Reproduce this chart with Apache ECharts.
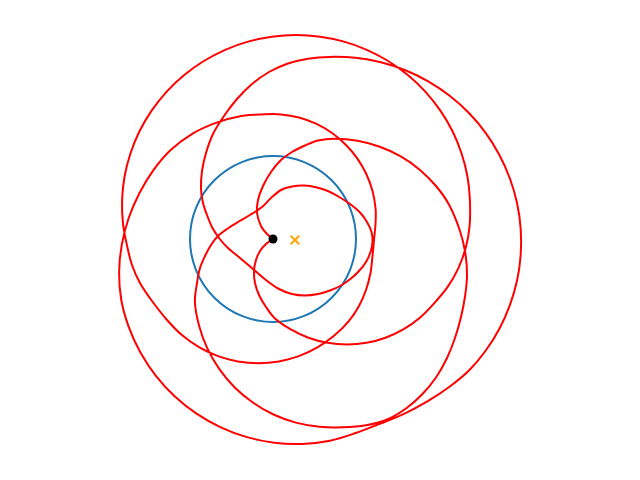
<!DOCTYPE html>
<html>
<head>
<meta charset="utf-8">
<script src="https://cdn.jsdelivr.net/npm/echarts@6/dist/echarts.min.js"></script>
<style>html,body{margin:0;padding:0;background:#fff}#c{width:640px;height:480px}</style>
</head>
<body>
<div id="c"></div>
<script>
// Trajectory (red); origin at the black dot, y up
const trajX = [0,-7,-13,-17,-19,-18,-14,-7,1.7,17.8,35.5,54.5,74,93.5,112.5,130.3,146.3,160.2,174.3,185.3,192.8,196.6,
196.9,194.4,188.5,179.4,167.2,152.3,134.8,115.2,93.8,71,47.2,23,-1.2,-25,-47.8,-69.2,-88.8,-106.3,-121.2,-133.4,-142.5,-148.4,-150.9,-150,-145.8,
-141,-133,-121,-105.5,-90.5,-73.6,-55,-35.1,-14.6,5.9,25.8,44.4,61.3,75.8,86,93,97.5,99.5,101,102.5,102.6,99.5,93.3,84.2,72.5,58.7,43,25.9,8.1,-8.3,
-31.6,-56.5,-80.4,-101.8,-119.4,-133.5,-144.3,-151.2,-153.9,-151.7,-144.3,-132.7,-117.3,-98.4,-76.5,-52.2,-26.1,1.3,29.2,57,82.7,107.6,
131.6,154.8,176.5,196.2,212.8,226.4,236.9,244.1,247.7,247.7,244.1,236.9,226.4,212.8,196.2,177,155.6,132.4,107.9,82.4,56.6,35,15,-4,-21,-36,-49,-60,-67,-71,-72,-70,
-66,-61,-54,-45,-33,-20,-7,6,19,32,45,57,68,78,86,93,97.5,99.5,98.5,94,87,77,67,56,44,31,19,8,-2,-11,-23,-35,-46,-55,-62,-68,-73,-76,
-78.1,-73.9,-65.8,-53.8,-38.5,-20.2,0.5,22.9,46.5,70,93,114,133,149,163,174,182,188,192,194,192.5,187,176.2,163,146.7,127.8,106.8,84.5,61.5,45,32,19,8,-2,-10,-15,-16,-12,-6,0];
const trajY = [0,-5,-12,-21,-32,-44,-56,-68,-79.2,-90.4,-98.7,-103.8,-105.5,-103.8,-98.7,-90.4,-79.2,-65.3,-48.4,-29.3,-8.6,13.1,
39,62.7,85.8,108,128.6,147.4,164,178,189.2,197.4,202.3,204,202.3,197.4,189.2,178,164,147.4,128.6,108,85.8,62.7,39,15.1,-7.4,
-26,-44,-62,-81.5,-96.6,-108.4,-117.1,-122.4,-124.2,-122.4,-117.1,-108.4,-96.6,-82.1,-67,-51,-34,-17,-1,15,30.1,47.9,65,80.7,94.5,106.2,115.3,121.5,124.6,124.7,
123.1,116.4,105.4,89.4,69.1,46,21,-5.6,-33.2,-61,-87.9,-113.3,-136.6,-157.2,-174.6,-188.3,-198.1,-203.7,-204.9,-201.7,-194,-184.5,
-174.6,-162.2,-147.8,-131.3,-111.5,-89.7,-66.1,-41.3,-15.7,10.1,35.7,60.5,84,105.9,125.7,143,157.4,168.7,176.7,181.2,182.1,180.3,175.5,167,155,140,123,105,86,68,50,36,
24,12,1,-9,-19,-30,-41,-50,-55,-56.5,-55,-51.5,-46.5,-39.5,-32,-23,-13,-3,7,17,26.5,35,41.5,47.5,51.5,53.5,52.5,49,41,32,24,17,10,3,-6,-17,-29,-44,
-63.2,-86.8,-109.2,-129.9,-148.2,-163.5,-175.5,-183.6,-187.8,-188.3,-186.3,-180.5,-169.5,-155.5,-138.5,-119,-99,-78,-57.5,-37,-15,8,34,53,69.3,82.6,92.3,98.3,100.3,98.5,93.5,87,79,67,53,39,26,13,5,0];
// Blue circle: centre and radius
const circleCenter = [0, 0];
const circleRadius = 83;
// Markers
const dotPoint = [0, 0];
const crossPoint = [22, -1];

const trajData = trajX.map((x, i) => [x, trajY[i]]);

const chart = echarts.init(document.getElementById('c'), null, {renderer: 'canvas'});
chart.setOption({
  animation: false,
  backgroundColor: '#ffffff',
  grid: {left: 0, right: 0, top: 0, bottom: 0},
  xAxis: {type: 'value', min: -273, max: 367, show: false},
  yAxis: {type: 'value', min: -241, max: 239, show: false},
  series: [
    {
      type: 'custom',
      data: [[circleCenter[0], circleCenter[1], circleRadius]],
      renderItem: function (params, api) {
        const c = api.coord([api.value(0), api.value(1)]);
        const r = api.size([api.value(2), 0])[0];
        return {
          type: 'circle',
          shape: {cx: c[0], cy: c[1], r: r},
          style: {fill: 'none', stroke: '#1f77b4', lineWidth: 2}
        };
      },
      z: 1
    },
    {
      type: 'custom',
      data: [trajData[0]],
      renderItem: function (params, api) {
        const pts = trajData.map(p => api.coord(p));
        return {
          type: 'polyline',
          shape: {points: pts, smooth: 0.33},
          style: {fill: 'none', stroke: '#ff0000', lineWidth: 2, lineJoin: 'round'}
        };
      },
      z: 2
    },
    {
      type: 'scatter',
      data: [dotPoint],
      symbol: 'circle',
      symbolSize: 9,
      itemStyle: {color: '#000000', opacity: 1},
      z: 3
    },
    {
      type: 'custom',
      data: [crossPoint],
      renderItem: function (params, api) {
        const c = api.coord([api.value(0), api.value(1)]);
        const h = 4.2;
        const st = {stroke: '#ffa500', lineWidth: 2};
        return {
          type: 'group',
          children: [
            {type: 'line', shape: {x1: c[0]-h, y1: c[1]-h, x2: c[0]+h, y2: c[1]+h}, style: st},
            {type: 'line', shape: {x1: c[0]-h, y1: c[1]+h, x2: c[0]+h, y2: c[1]-h}, style: st}
          ]
        };
      },
      z: 4
    }
  ]
});
</script>
</body>
</html>
